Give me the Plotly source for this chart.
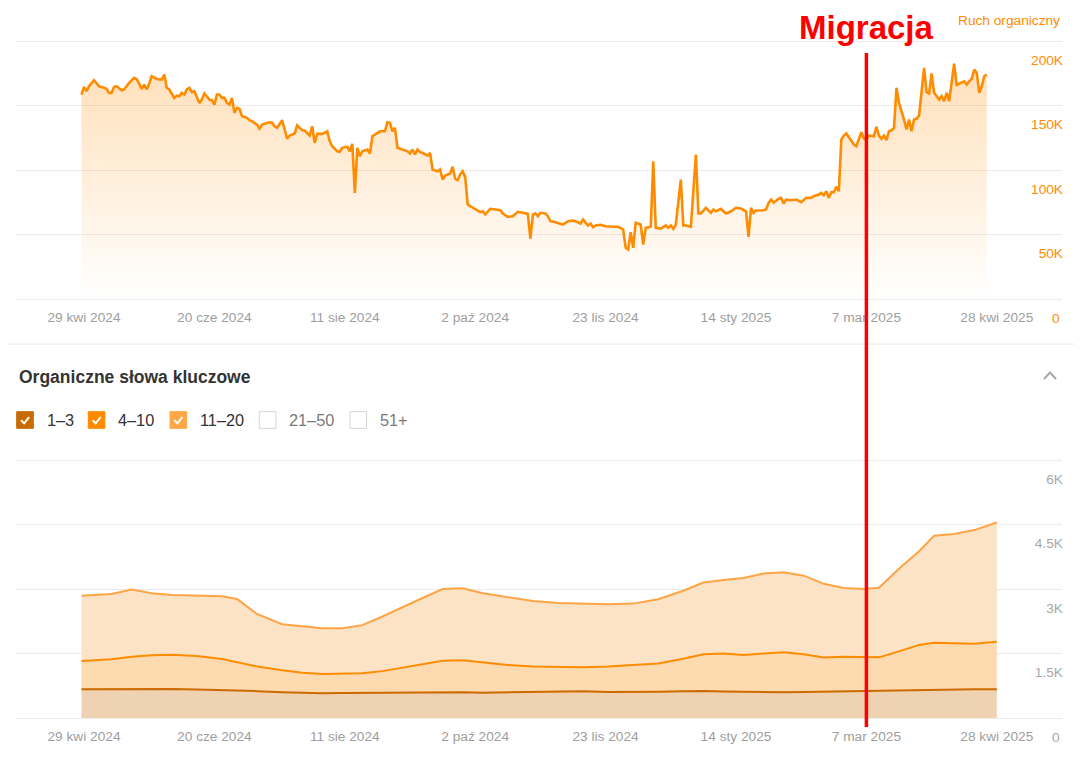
import pandas as pd
import plotly.graph_objects as go

START = "2024-04-28"
FONT = "Arial, Liberation Sans, sans-serif"

# --- Ruch organiczny (daily traffic, days since START, values in K) ---
traffic_days = [
    0, 1, 2, 3, 5, 7, 9, 10, 11, 12, 13, 14,
    16, 17, 19, 21, 22, 24, 25, 26, 27, 28, 30, 32,
    33, 34, 35, 37, 38, 39, 40, 41, 42, 43, 44, 45,
    47, 48, 49, 51, 52, 53, 54, 55, 56, 57, 58, 59,
    60, 61, 62, 63, 64, 66, 67, 68, 70, 71, 72, 74,
    75, 76, 77, 78, 80, 81, 82, 83, 85, 86, 88, 89,
    91, 92, 93, 94, 96, 98, 99, 100, 102, 103, 104, 106,
    107, 108, 109, 110, 111, 112, 114, 115, 116, 119, 121, 122,
    123, 124, 125, 126, 128, 130, 131, 132, 133, 134, 135, 136,
    138, 139, 140, 142, 143, 144, 145, 147, 148, 149, 150, 151,
    152, 153, 154, 155, 157, 159, 160, 161, 163, 165, 167, 168,
    170, 172, 174, 176, 178, 179, 180, 181, 182, 183, 185, 186,
    187, 189, 191, 192, 194, 196, 198, 199, 200, 201, 202, 203,
    204, 205, 206, 207, 209, 211, 212, 214, 215, 216, 217, 218,
    219, 220, 221, 223, 224, 225, 226, 227, 228, 229, 231, 232,
    233, 234, 235, 236, 237, 239, 240, 241, 243, 245, 246, 247,
    249, 251, 252, 253, 255, 256, 257, 259, 261, 263, 265, 266,
    267, 268, 269, 272, 273, 274, 275, 276, 278, 279, 280, 281,
    283, 285, 287, 289, 291, 292, 294, 295, 296, 297, 298, 299,
    300, 301, 302, 303, 304, 305, 306, 308, 309, 311, 312, 313,
    314, 316, 317, 318, 319, 320, 321, 322, 323, 324, 325, 326,
    328, 329, 330, 331, 332, 333, 334, 335, 336, 337, 338, 339,
    340, 342, 343, 344, 345, 346, 347, 348, 349, 350, 352, 353,
    354, 355, 356, 357, 358, 359, 360, 361,
]
traffic_k = [
    158.5, 164.5, 161.1, 164.9, 169.6, 164.9, 163.7, 162.9, 159.8, 159.8, 164.5, 164.9,
    161.8, 162.4, 167.6, 171.4, 170.6, 162.9, 166.2, 162.4, 167.0, 172.7, 170.6, 170.1,
    174.0, 163.7, 162.4, 155.9, 157.7, 157.2, 159.8, 158.5, 162.4, 163.7, 160.3, 161.1,
    152.0, 154.6, 159.3, 154.6, 154.1, 150.7, 158.5, 158.5, 155.9, 155.9, 152.0, 150.7,
    155.9, 144.3, 148.2, 147.4, 141.7, 140.4, 138.6, 137.8, 135.2, 132.1, 135.2, 136.6,
    137.0, 136.6, 133.9, 132.7, 138.6, 131.4, 124.2, 126.7, 128.3, 134.5, 130.8, 130.6,
    126.7, 133.9, 121.1, 128.0, 128.0, 130.0, 122.3, 118.4, 114.5, 114.1, 117.2, 118.0,
    114.5, 120.3, 82.3, 117.2, 110.7, 114.5, 115.9, 112.8, 126.2, 130.0, 130.0, 137.0,
    136.6, 130.0, 132.7, 117.2, 115.9, 114.5, 112.8, 115.9, 112.0, 115.9, 113.8, 113.3,
    111.2, 113.3, 100.4, 99.0, 100.4, 92.6, 95.7, 97.3, 102.5, 93.2, 92.1, 96.5,
    99.0, 94.7, 73.2, 71.9, 69.4, 67.3, 68.0, 65.5, 69.9, 69.4, 68.8, 66.3,
    63.7, 64.2, 67.6, 66.8, 66.0, 46.9, 65.5, 66.3, 64.2, 66.8, 66.3, 64.2,
    60.3, 59.5, 58.5, 57.7, 60.3, 60.8, 59.5, 58.5, 61.6, 59.5, 57.0, 58.5,
    55.6, 57.0, 57.0, 57.5, 56.4, 56.0, 56.0, 56.0, 55.2, 53.9, 39.7, 38.4,
    51.8, 39.7, 59.1, 57.7, 42.2, 55.2, 55.6, 56.0, 106.8, 55.2, 54.6, 56.0,
    57.0, 55.2, 57.0, 54.4, 57.7, 92.6, 57.0, 57.0, 56.0, 112.0, 66.3, 66.3,
    70.7, 66.8, 69.4, 68.0, 69.9, 68.0, 66.3, 68.0, 70.7, 70.1, 68.0, 48.2,
    70.7, 66.8, 68.6, 68.8, 69.4, 74.6, 77.1, 74.6, 77.7, 78.4, 74.0, 77.1,
    76.6, 77.1, 75.0, 78.4, 78.4, 79.7, 81.0, 82.3, 80.4, 83.5, 78.4, 82.8,
    82.8, 87.0, 83.5, 123.6, 126.7, 128.3, 125.7, 119.7, 118.4, 129.3, 124.2, 123.6,
    126.7, 126.2, 133.5, 126.7, 124.2, 126.7, 123.1, 130.0, 130.8, 132.7, 163.7, 152.0,
    139.1, 131.4, 139.1, 130.0, 139.1, 139.7, 142.2, 159.8, 179.2, 160.3, 159.3, 174.8,
    159.8, 154.6, 157.2, 153.3, 159.8, 153.3, 166.2, 182.5, 165.5, 167.0, 168.8, 166.2,
    168.8, 170.7, 177.9, 175.3, 159.8, 164.9, 172.7, 174.0,
]

# --- Organiczne słowa kluczowe (stacked by position) ---
kw_days = [0, 12, 20, 28, 36, 46, 56, 62, 70, 80, 88, 96, 104, 112, 120, 128, 136,
           144, 152, 160, 170, 180, 190, 200, 210, 220, 230, 240, 248, 256, 264,
           272, 280, 288, 296, 304, 312, 318, 326, 334, 340, 348, 356, 365]
kw_1_3 = [667, 672, 680, 680, 672, 660, 650, 642, 625, 600, 585, 577, 580, 585, 590,
          598, 605, 612, 600, 590, 600, 610, 620, 625, 605, 600, 610, 620, 628, 615,
          605, 600, 600, 605, 612, 620, 627, 628, 645, 655, 662, 667, 667, 667]
kw_4_10 = [659, 695, 745, 780, 798, 780, 720, 648, 575, 510, 465, 448, 450, 455, 500,
           572, 655, 718, 745, 710, 635, 590, 570, 555, 590, 630, 660, 760, 852, 885,
           860, 900, 930, 875, 793, 805, 798, 782, 905, 1045, 1088, 1078, 1058, 1108]
kw_11_20 = [1519, 1518, 1565, 1440, 1390, 1410, 1460, 1480, 1220, 1070, 1080, 1060,
            1060, 1120, 1270, 1410, 1530, 1670, 1670, 1600, 1575, 1520, 1485, 1480,
            1450, 1430, 1490, 1580, 1670, 1710, 1790, 1860, 1860, 1830, 1715, 1600,
            1575, 1620, 1920, 2180, 2490, 2535, 2645, 2770]

x_tickvals = ["2024-04-29", "2024-06-20", "2024-08-11", "2024-10-02",
              "2024-11-23", "2025-01-14", "2025-03-07", "2025-04-28"]
x_ticktext = ["29 kwi 2024", "20 cze 2024", "11 sie 2024", "2 paź 2024",
              "23 lis 2024", "14 sty 2025", "7 mar 2025", "28 kwi 2025"]
traffic_ticks = [50000, 100000, 150000, 200000]
traffic_ticktext = ["50K", "100K", "150K", "200K"]
kw_ticks = [1500, 3000, 4500, 6000]
kw_ticktext = ["1.5K", "3K", "4.5K", "6K"]
TRAFFIC_MAX, KW_MAX = 200000, 6000

legend_labels = ["1–3", "4–10", "11–20", "21–50", "51+"]
legend_colors = ["#c96b00", "#ff8a00", "#ffa646", None, None]
MIGRATION_DATE = "2025-03-07"

# the page puts the figure 8px in from the top-left corner of the window,
# so everything below is laid out in window pixels and the figure is shrunk by OFF
OFF = 8
W, H = 1082 - OFF, 757 - OFF
TOP_GRID = (41, 299)     # window rows of the 200K and 0 gridlines
BOT_GRID = (460, 718)    # window rows of the 6K and 0 gridlines
PAD = 2                  # keeps the outermost gridlines off the plot edges
PLOT_L, PLOT_R = 16, 1062
PLOT_T, PLOT_B = TOP_GRID[0] - PAD, BOT_GRID[1] + PAD
PW, PH = PLOT_R - PLOT_L, PLOT_B - PLOT_T


def px_x(p):
    return (p - PLOT_L) / PW


def px_y(p):
    return (PLOT_B - p) / PH


def padded_range(vmax, grid):
    extra = PAD * vmax / (grid[1] - grid[0])
    return [-extra, vmax + extra]


start = pd.Timestamp(START)
traffic_dates = start + pd.to_timedelta(traffic_days, unit="D")
kw_dates = start + pd.to_timedelta(kw_days, unit="D")

fig = go.Figure()

fig.add_trace(go.Scatter(
    x=traffic_dates, y=[v * 1000 for v in traffic_k],
    mode="lines", line=dict(color="#ff8c00", width=2.6),
    fill="tozeroy",
    fillgradient=dict(type="vertical", start=0, stop=180000,
                      colorscale=[[0, "rgba(255,140,0,0.0)"],
                                  [1, "rgba(255,140,0,0.27)"]]),
    xaxis="x", yaxis="y", showlegend=False, hoverinfo="skip",
))

bands = [
    ("1–3", kw_1_3, "#cc6a00", "#eed2b1"),
    ("4–10", kw_4_10, "#ff8c00", "#fddab0"),
    ("11–20", kw_11_20, "#ffa445", "#fde3c6"),
]
for name, vals, lc, fc in bands:
    fig.add_trace(go.Scatter(
        x=kw_dates, y=vals, name=name, mode="lines",
        line=dict(color=lc, width=2), fillcolor=fc,
        stackgroup="kw", xaxis="x2", yaxis="y2",
        showlegend=False, hoverinfo="skip",
    ))

xrange = ["2024-04-01 21:10", "2025-05-24 00:00"]
xcommon = dict(
    type="date", range=xrange, tickvals=x_tickvals, ticktext=x_ticktext,
    showgrid=False, zeroline=False, showline=False, ticks="",
    ticklabelstandoff=8 - PAD,
    tickfont=dict(family=FONT, size=13.7, color="#9e9e9e"),
    fixedrange=True,
)
ycommon = dict(
    side="right", ticklabelposition="inside", ticks="",
    showgrid=True, gridcolor="#ebebeb", gridwidth=1,
    zeroline=True, zerolinecolor="#ebebeb", zerolinewidth=1,
    showline=False, ticklabelshift=19, ticklabelstandoff=-4, fixedrange=True,
)

fig.update_layout(
    width=W, height=H,
    margin=dict(l=PLOT_L - OFF, r=W - (PLOT_R - OFF), t=PLOT_T - OFF, b=H - (PLOT_B - OFF)),
    paper_bgcolor="white", plot_bgcolor="white",
    font=dict(family=FONT),
    xaxis=dict(xcommon, anchor="y"),
    xaxis2=dict(xcommon, anchor="y2"),
    yaxis=dict(ycommon, domain=[px_y(TOP_GRID[1] + PAD), 1],
               range=padded_range(TRAFFIC_MAX, TOP_GRID),
               tickvals=traffic_ticks, ticktext=traffic_ticktext,
               tickfont=dict(family=FONT, size=13.7, color="#ff8c00")),
    yaxis2=dict(ycommon, domain=[0, px_y(BOT_GRID[0] - PAD)],
                range=padded_range(KW_MAX, BOT_GRID),
                tickvals=kw_ticks, ticktext=kw_ticktext,
                tickfont=dict(family=FONT, size=13.7, color="#a8a8a8")),
)

shapes = [
    # separator between the two panels
    dict(type="line", xref="paper", yref="paper", x0=px_x(OFF), x1=px_x(1082),
         y0=px_y(344), y1=px_y(344), line=dict(color="#e6e6e6", width=1)),
    # collapse chevron
    dict(type="path", xref="paper", yref="paper",
         path=f"M {px_x(1044)} {px_y(379)} L {px_x(1050)} {px_y(372.5)} L {px_x(1056)} {px_y(379)}",
         line=dict(color="#a8a8a8", width=2)),
    # migration marker
    dict(type="line", xref="x", yref="paper", x0=MIGRATION_DATE, x1=MIGRATION_DATE,
         y0=px_y(727), y1=px_y(53), line=dict(color="#ff0000", width=3.5)),
]

annotations = [
    # kept just inside the figure's top edge so the label box is not clipped
    dict(text="<b>Migracja</b>", x=MIGRATION_DATE, xref="x", y=px_y(27.5), yref="paper",
         xanchor="center", yanchor="middle", showarrow=False,
         font=dict(family=FONT, size=33, color="#ff0000")),
    dict(text="Ruch organiczny", x=1, xref="paper", y=px_y(20), yref="paper",
         xanchor="right", yanchor="middle", showarrow=False,
         font=dict(family=FONT, size=13.7, color="#ff8c00")),
    dict(text="<b>Organiczne słowa kluczowe</b>", x=px_x(17), xref="paper",
         y=px_y(376.5), yref="paper", xanchor="left", yanchor="middle", showarrow=False,
         font=dict(family=FONT, size=17.5, color="#333333")),
    # zero labels sit on the date row, outside the plot area
    dict(text="0", x=1, xref="paper", y=px_y(318), yref="paper",
         xanchor="right", yanchor="middle", showarrow=False,
         font=dict(family=FONT, size=13.7, color="#ff8c00")),
    dict(text="0", x=1, xref="paper", y=px_y(737), yref="paper",
         xanchor="right", yanchor="middle", showarrow=False,
         font=dict(family=FONT, size=13.7, color="#a8a8a8")),
]

box_left = [16.7, 88.3, 170, 259.3, 350]
label_left = [45, 116, 197.7, 287.3, 378.3]
by0, by1 = 411.7, 428.3
for bx, lx, lab, col in zip(box_left, label_left, legend_labels, legend_colors):
    checked = col is not None
    shapes.append(dict(
        type="rect", xref="paper", yref="paper",
        x0=px_x(bx), x1=px_x(bx + 16.6), y0=px_y(by1), y1=px_y(by0),
        fillcolor=col if checked else "white",
        line=dict(color=col if checked else "#d4d4d4", width=1),
    ))
    if checked:
        shapes.append(dict(
            type="path", xref="paper", yref="paper",
            path=(f"M {px_x(bx + 4.3)} {px_y(by0 + 8.6)} "
                  f"L {px_x(bx + 7.4)} {px_y(by0 + 11.6)} "
                  f"L {px_x(bx + 12.4)} {px_y(by0 + 5.4)}"),
            line=dict(color="white", width=2),
        ))
    annotations.append(dict(
        text=lab, x=px_x(lx), xref="paper", y=px_y(420), yref="paper",
        xanchor="left", yanchor="middle", showarrow=False,
        font=dict(family=FONT, size=16.3, color="#333333" if checked else "#7a7a7a"),
    ))

fig.update_layout(shapes=shapes, annotations=annotations)

fig.write_html("out.html", config={"displayModeBar": False})
